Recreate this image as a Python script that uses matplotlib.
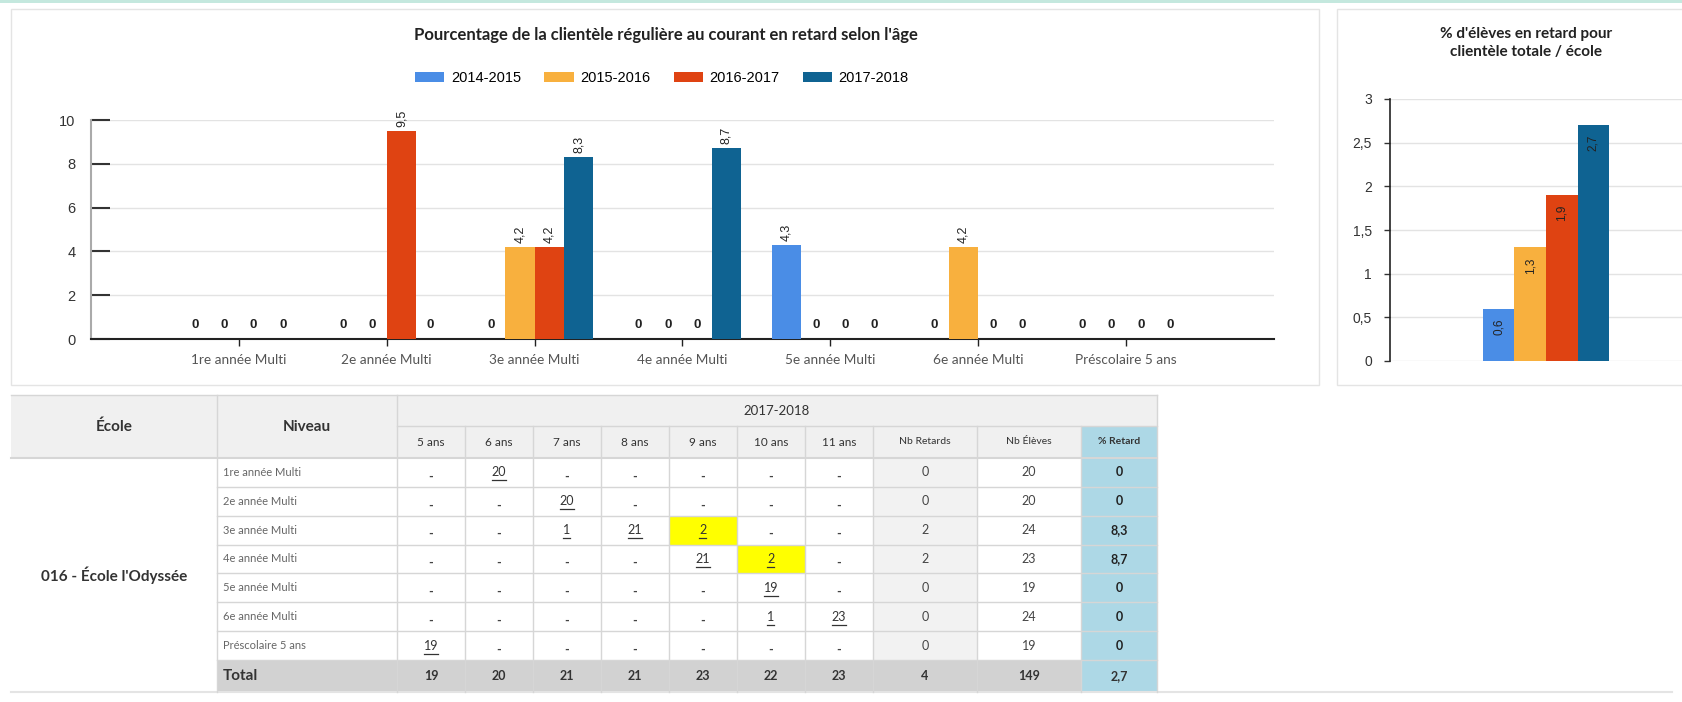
import matplotlib
matplotlib.use("Agg")
import matplotlib.pyplot as plt
from matplotlib.patches import Rectangle

# ---- données ----
niveaux = ["1re année Multi", "2e année Multi", "3e année Multi", "4e année Multi",
           "5e année Multi", "6e année Multi", "Préscolaire 5 ans"]
annees = ["2014-2015", "2015-2016", "2016-2017", "2017-2018"]
pct_2014 = [0, 0, 0, 0, 4.3, 0, 0]
pct_2015 = [0, 0, 4.2, 0, 0, 4.2, 0]
pct_2016 = [0, 9.5, 4.2, 0, 0, 0, 0]
pct_2017 = [0, 0, 8.3, 8.7, 0, 0, 0]
pct_total = [0.6, 1.3, 1.9, 2.7]

ages = ["5 ans", "6 ans", "7 ans", "8 ans", "9 ans", "10 ans", "11 ans"]
effectifs = [
    [None, 20, None, None, None, None, None],
    [None, None, 20, None, None, None, None],
    [None, None, 1, 21, 2, None, None],
    [None, None, None, None, 21, 2, None],
    [None, None, None, None, None, 19, None],
    [None, None, None, None, None, 1, 23],
    [19, None, None, None, None, None, None],
]
cases_retard = [(2, 4), (3, 5)]
nb_retards = [0, 0, 2, 2, 0, 0, 0]
nb_eleves = [20, 20, 24, 23, 19, 24, 19]
pct_retard = ["0", "0", "8,3", "8,7", "0", "0", "0"]
totaux_ages = [19, 20, 21, 21, 23, 22, 23]
total_retards = 4
total_eleves = 149
total_pct = "2,7"
ecole = "016 - École l'Odyssée"

couleurs = ["#4a8de6", "#f8b03e", "#df4312", "#0f6392"]

W, H = 1683, 702
fig = plt.figure(figsize=(W / 100, H / 100), dpi=100)
fig.patch.set_facecolor("white")

TXT = "Lato"
NUM = "Liberation Sans"

# fond : panneaux + tableau, en pixels
bg = fig.add_axes([0, 0, 1, 1])
bg.set_xlim(0, W)
bg.set_ylim(H, 0)
bg.axis("off")
bg.add_patch(Rectangle((0, 0), W, 3, fc="#c4e8de", ec="none"))
bg.add_patch(Rectangle((11, 9), 1308, 376, fc="white", ec="#e4e4e4", lw=1))
bg.add_patch(Rectangle((1337, 9), 400, 376, fc="white", ec="#e4e4e4", lw=1))


def fx(x):
    return x / W


def fy(y):
    return 1 - y / H


def virgule(v):
    return ("%g" % v).replace(".", ",")


# ---- graphique principal ----
ax1 = fig.add_axes([fx(91), fy(339), (1274 - 91) / W, (339 - 120) / H])
ax1.set_facecolor("none")
series = [pct_2014, pct_2015, pct_2016, pct_2017]
w = 0.198
x = list(range(len(niveaux)))
barres = []
for k, vals in enumerate(series):
    pos = [i + (k - 1.5) * w for i in x]
    b = ax1.bar(pos, vals, width=w, color=couleurs[k], label=annees[k], zorder=3)
    barres.append(b)
    for p, v in zip(pos, vals):
        if v == 0:
            ax1.annotate("0", (p, 0), xytext=(0, 6), textcoords="offset points",
                         ha="center", va="bottom", fontsize=9.5, color="#222",
                         family=NUM, fontweight="bold")
        else:
            ax1.annotate(virgule(v), (p, v), xytext=(0, 3), textcoords="offset points",
                         ha="center", va="bottom", rotation=90, fontsize=9,
                         color="#222", family=NUM)
ax1.set_xlim(-1.0, 7.0)
ax1.set_ylim(0, 10)
ax1.set_yticks(range(0, 11, 2))
ax1.set_xticks(x)
ax1.set_xticklabels(niveaux, family=TXT, fontsize=9.8, color="#555")
ax1.tick_params(axis="x", length=5, width=1, color="#222", pad=6)
ax1.tick_params(axis="y", direction="in", length=14, width=1.5, color="#333",
                labelsize=10.5, labelcolor="#333", pad=11)
for t in ax1.get_yticklabels():
    t.set_family(NUM)
ax1.grid(axis="y", color="#e3e3e3", lw=1, zorder=0)
for s in ["top", "right"]:
    ax1.spines[s].set_visible(False)
ax1.spines["left"].set_color("#aaaaaa")
ax1.spines["left"].set_linewidth(1.5)
ax1.spines["bottom"].set_color("#222")
ax1.spines["bottom"].set_linewidth(1.5)

fig.text(fx(666), fy(35), "Pourcentage de la clientèle régulière au courant en retard selon l'âge",
         ha="center", va="center", fontsize=12, fontweight="bold", family=TXT, color="#222")
fig.legend(handles=barres, labels=annees, loc="center", bbox_to_anchor=(fx(662), fy(78)),
           ncol=4, frameon=False, handlelength=2.0, handleheight=0.75, handletextpad=0.45,
           columnspacing=1.6, prop={"family": NUM, "size": 10.5})

# ---- graphique de droite ----
ax2 = fig.add_axes([fx(1390), fy(361), 312 / W, (361 - 99) / H])
ax2.set_facecolor("none")
w2 = 0.101
for k, v in enumerate(pct_total):
    p = (k - 1.5) * w2
    ax2.bar([p], [v], width=w2, color=couleurs[k], zorder=3)
    ax2.annotate(virgule(v), (p, v), xytext=(0, -7), textcoords="offset points",
                 ha="center", va="top", rotation=90, fontsize=8.5, color="#222", family=NUM)
ax2.set_xlim(-0.5, 0.5)
ax2.set_ylim(0, 3)
ax2.set_yticks([0, 0.5, 1, 1.5, 2, 2.5, 3])
ax2.set_yticklabels([virgule(v) for v in [0, 0.5, 1, 1.5, 2, 2.5, 3]], family=NUM,
                    fontsize=10, color="#333")
ax2.set_xticks([])
ax2.tick_params(axis="y", length=4, width=1, color="#333", pad=9)
ax2.grid(axis="y", color="#e3e3e3", lw=1, zorder=0)
for s in ["top", "right", "bottom"]:
    ax2.spines[s].set_visible(False)
ax2.spines["left"].set_color("#222")
ax2.spines["left"].set_linewidth(1.2)
fig.text(fx(1526), fy(43), "% d'élèves en retard pour\nclientèle totale / école", ha="center",
         va="center", fontsize=11, fontweight="bold", family=TXT, color="#222", linespacing=1.45)

# ---- tableau ----
cols = [11, 217, 397, 465, 533, 601, 669, 737, 805, 873, 977, 1081, 1157]
y_top, y_mid, y_head = 395, 426, 458
rh = (660 - 458) / 7
rows = [y_head + i * rh for i in range(8)]
y_bot = 692
ligne = "#d6d6d6"

bg.add_patch(Rectangle((cols[0], y_top), cols[-1] - cols[0], y_head - y_top, fc="#f0f0f0", ec="none"))
bg.add_patch(Rectangle((cols[11], y_mid), cols[12] - cols[11], y_head - y_mid, fc="#add8e6", ec="none"))
bg.add_patch(Rectangle((cols[9], y_head), cols[10] - cols[9], rows[-1] - y_head, fc="#f2f2f2", ec="none"))
bg.add_patch(Rectangle((cols[11], y_head), cols[12] - cols[11], rows[-1] - y_head, fc="#add8e6", ec="none"))
bg.add_patch(Rectangle((cols[1], rows[-1]), cols[11] - cols[1], y_bot - rows[-1], fc="#d2d2d2", ec="none"))
bg.add_patch(Rectangle((cols[11], rows[-1]), cols[12] - cols[11], y_bot - rows[-1], fc="#add8e6", ec="none"))
for (r, c) in cases_retard:
    bg.add_patch(Rectangle((cols[2 + c], rows[r]), cols[3 + c] - cols[2 + c], rh, fc="#ffff00", ec="none"))

bg.plot([cols[0], cols[-1]], [y_top, y_top], color=ligne, lw=1)
bg.plot([cols[2], cols[-1]], [y_mid, y_mid], color=ligne, lw=1)
bg.plot([cols[0], cols[-1]], [y_head, y_head], color=ligne, lw=1.5)
for yy in rows[1:]:
    bg.plot([cols[1], cols[-1]], [yy, yy], color=ligne, lw=1)
bg.plot([cols[0], 1672], [y_bot, y_bot], color="#e4e4e4", lw=1.5)
bg.plot([cols[1], cols[1]], [y_top, y_bot], color=ligne, lw=1)
bg.plot([cols[2], cols[2]], [y_top, y_bot], color=ligne, lw=1)
for xx in cols[3:12]:
    bg.plot([xx, xx], [y_mid, y_bot], color=ligne, lw=1)
bg.plot([cols[12], cols[12]], [y_top, y_bot], color=ligne, lw=1)

bg.text((cols[0] + cols[1]) / 2, 427, "École", ha="center", va="center", fontsize=11,
        fontweight="bold", family=TXT, color="#333")
bg.text((cols[1] + cols[2]) / 2, 427, "Niveau", ha="center", va="center", fontsize=11,
        fontweight="bold", family=TXT, color="#333")
bg.text((cols[2] + cols[12]) / 2, 411, "2017-2018", ha="center", va="center", fontsize=9.5,
        family=TXT, color="#333")
for j, a in enumerate(ages):
    bg.text((cols[2 + j] + cols[3 + j]) / 2, 442, a, ha="center", va="center", fontsize=8.5,
            family=TXT, color="#333")
for j, lab in enumerate(["Nb Retards", "Nb Élèves", "% Retard"]):
    bg.text((cols[9 + j] + cols[10 + j]) / 2, 442, lab, ha="center", va="center", fontsize=7.5,
            fontweight="bold" if j == 2 else "normal", family=TXT, color="#333")

bg.text((cols[0] + cols[1]) / 2, (y_head + y_bot) / 2, ecole, ha="center", va="center",
        fontsize=11, fontweight="bold", family=TXT, color="#333")

for i, niv in enumerate(niveaux):
    yc = rows[i] + rh / 2
    bg.text(cols[1] + 6, yc, niv, ha="left", va="center", fontsize=8, family=TXT, color="#666")
    for j, v in enumerate(effectifs[i]):
        xc = (cols[2 + j] + cols[3 + j]) / 2
        if v is None:
            bg.text(xc, yc + 4, "-", ha="center", va="center", fontsize=9, fontweight="bold",
                    family=TXT, color="#444")
        else:
            s = str(v)
            bg.text(xc, yc, s, ha="center", va="center", fontsize=9, family=TXT, color="#333")
            lw_u = len(s) * 7.0
            bg.plot([xc - lw_u / 2, xc + lw_u / 2], [yc + 8, yc + 8], color="#333", lw=0.9)
    bg.text((cols[9] + cols[10]) / 2, yc, str(nb_retards[i]), ha="center", va="center",
            fontsize=9, family=TXT, color="#444")
    bg.text((cols[10] + cols[11]) / 2, yc, str(nb_eleves[i]), ha="center", va="center",
            fontsize=9, family=TXT, color="#444")
    bg.text((cols[11] + cols[12]) / 2, yc, pct_retard[i], ha="center", va="center",
            fontsize=9, fontweight="bold", family=TXT, color="#222")

yc = (rows[-1] + y_bot) / 2
bg.text(cols[1] + 6, yc, "Total", ha="left", va="center", fontsize=11, fontweight="bold",
        family=TXT, color="#333")
tot_vals = [str(t) for t in totaux_ages] + [str(total_retards), str(total_eleves), total_pct]
for j, s in enumerate(tot_vals):
    bg.text((cols[2 + j] + cols[3 + j]) / 2, yc, s, ha="center", va="center", fontsize=9,
            fontweight="bold", family=TXT, color="#333")

fig.savefig("out.png", dpi=100, facecolor="white")
plt.close(fig)
